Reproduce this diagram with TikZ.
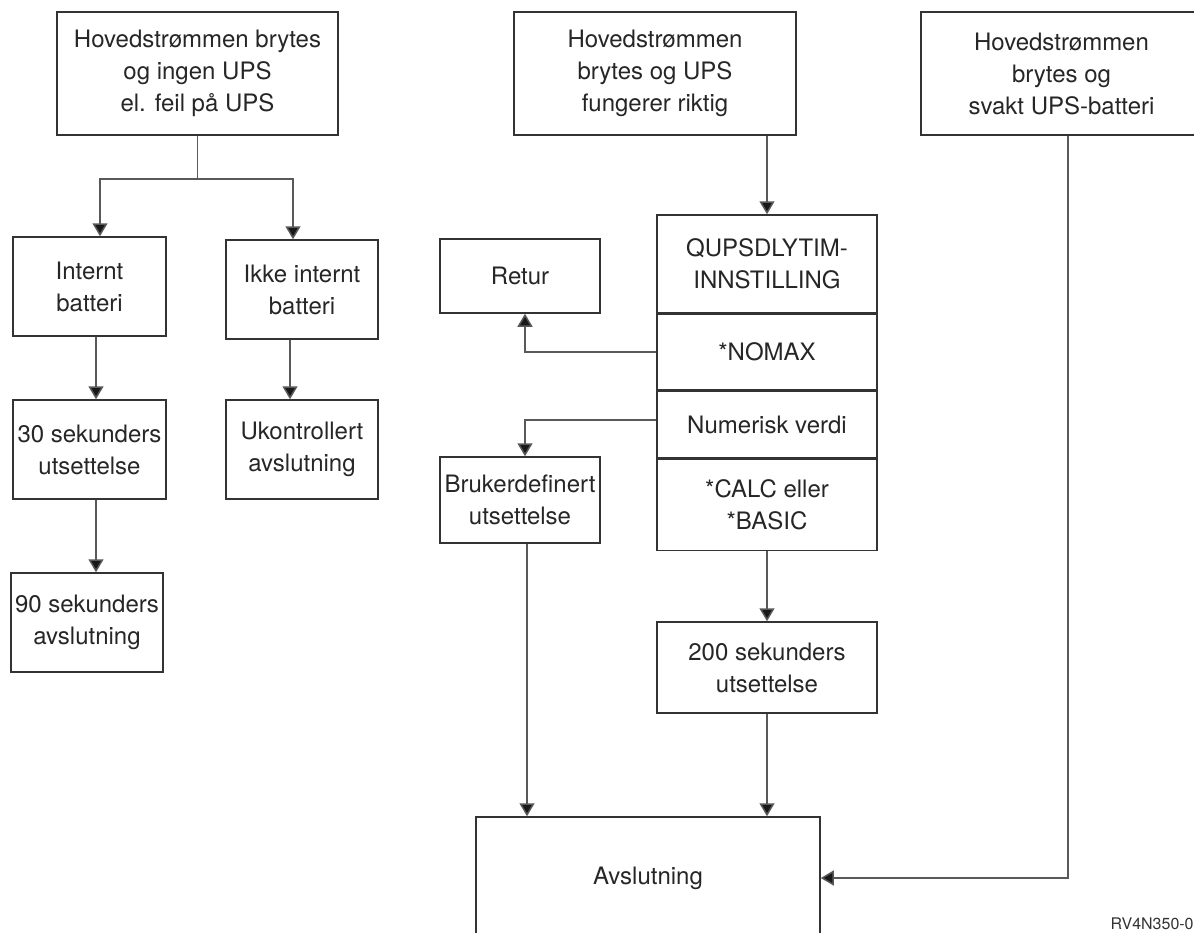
\documentclass[tikz,border=0pt]{standalone}
\usepackage{fontspec}
\setmainfont{TeX Gyre Heros}
\usetikzlibrary{arrows.meta,positioning}

\begin{document}
\begin{tikzpicture}[x=0.5pt,y=-0.5pt,
  boks/.style={draw=black!80, line width=0.75pt, align=center, inner sep=2pt,
    font=\fontsize{12}{16}\selectfont, text=black!85},
  pil/.style={draw=black!65, line width=0.75pt, -{Triangle[length=6.5pt,width=7.5pt,fill=black!90]}},
  linje/.style={draw=black!65, line width=0.75pt}]

\useasboundingbox (0,0) rectangle (1194,932) ;

\node [boks, minimum width=140.5pt, minimum height=61.5pt] (uten) at (197.5,73.5) {Hovedstrømmen brytes\\og ingen UPS\\el. feil på UPS} ;
\node [boks, minimum width=141pt, minimum height=61.5pt] (med) at (655,73.5) {Hovedstrømmen\\brytes og UPS\\fungerer riktig} ;
\node [boks, minimum width=140.5pt, minimum height=61.5pt] (svakt) at (1061.5,73.5) {Hovedstrømmen\\brytes og\\svakt UPS-batteri} ;

\node [boks, minimum width=76.5pt, minimum height=49.5pt] (internt) at (89.5,286.5) {Internt\\batteri} ;
\node [boks, minimum width=76pt, minimum height=49.5pt] (ikke) at (302,289.5) {Ikke internt\\batteri} ;
\node [boks, minimum width=76.5pt, minimum height=49.5pt] (sek30) at (89.5,449.5) {30 sekunders\\utsettelse} ;
\node [boks, minimum width=76pt, minimum height=49.5pt] (ukontr) at (302,449.5) {Ukontrollert\\avslutning} ;
\node [boks, minimum width=76pt, minimum height=49.5pt] (sek90) at (87,622.5) {90 sekunders\\avslutning} ;

\node [boks, minimum width=110pt, minimum height=49pt] (qups) at (767,264) {QUPSDLYTIM-\\INNSTILLING} ;
\node [boks, minimum width=110pt, minimum height=37.5pt, below=0pt of qups] (nomax) {*NOMAX} ;
\node [boks, minimum width=110pt, minimum height=33.5pt, below=0pt of nomax] (numerisk) {Numerisk verdi} ;
\node [boks, minimum width=110pt, minimum height=45.5pt, below=0pt of numerisk] (calcbasic) {*CALC eller\\*BASIC} ;

\node [boks, minimum width=80pt, minimum height=37pt] (retur) at (520,276) {Retur} ;
\node [boks, minimum width=80pt, minimum height=43pt] (bruker) at (520,500) {Brukerdefinert\\utsettelse} ;
\node [boks, minimum width=110pt, minimum height=45.5pt] (sek200) at (767,667.5) {200 sekunders\\utsettelse} ;
\node [boks, minimum width=172pt, minimum height=61pt] (avsl) at (648,878) {Avslutning} ;

\node [font=\fontsize{8}{9}\selectfont, text=black!80, anchor=base east, inner sep=0pt] (figur) at (1194,929) {RV4N350-0} ;

\coordinate (gren) at ([yshift=-21.5pt]uten.south) ;
\draw [linje] (uten.south) -- (gren) ;
\draw [pil] (gren) -| ([xshift=5.25pt]internt.north) ;
\draw [pil] (gren) -| ([xshift=-4.5pt]ikke.north) ;
\draw [pil] ([xshift=3.25pt]internt.south) -- ([xshift=3.25pt]sek30.north) ;
\draw [pil] ([xshift=-6pt]ikke.south) -- ([xshift=-6pt]ukontr.north) ;
\draw [pil] ([xshift=3.25pt]sek30.south) -- ([xshift=3.25pt]sek30.south |- sek90.north) ;

\draw [pil] (med.south -| qups.north) -- (qups.north) ;
\draw [pil] (nomax.west) -| ([xshift=2.5pt]retur.south) ;
\draw [pil] ([yshift=2.25pt]numerisk.west) -| ([xshift=2.5pt]bruker.north) ;
\draw [pil] ([xshift=3.5pt]bruker.south) -- ([xshift=3.5pt]bruker.south |- avsl.north) ;
\draw [pil] (calcbasic.south) -- (sek200.north) ;
\draw [pil] (sek200.south) -- (sek200.south |- avsl.north) ;
\draw [pil] ([xshift=3.25pt]svakt.south) |- (avsl.east) ;
\end{tikzpicture}
\end{document}
